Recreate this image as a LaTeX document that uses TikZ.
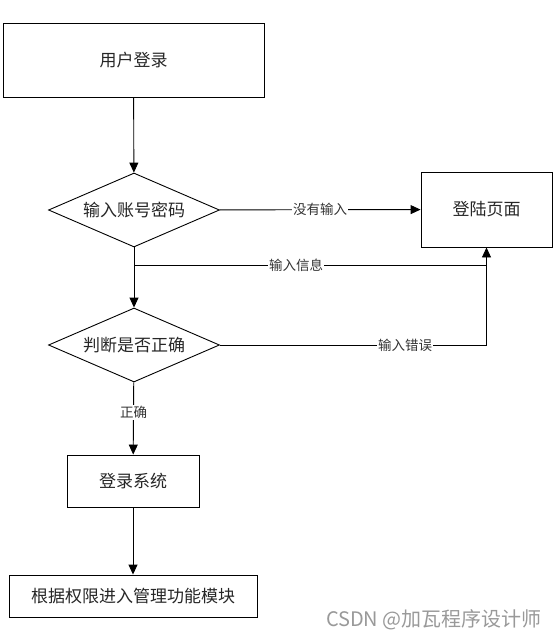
\documentclass[tikz,border=0pt]{standalone}
\usepackage{fontspec}
\setmainfont{Noto Sans CJK SC}
\usetikzlibrary{shapes.geometric,arrows.meta}
\begin{document}
\begin{tikzpicture}[x=1pt,y=-1pt,
  boxnode/.style={draw=black, line width=0.9pt, rectangle, inner sep=0pt, font=\fontsize{17}{20}\selectfont, text=black!85},
  decision/.style={draw=black, line width=0.9pt, diamond, aspect=2.31, inner sep=0pt, minimum width=171pt, minimum height=74pt, font=\fontsize{17}{20}\selectfont, text=black!85},
  lbl/.style={fill=white, inner sep=1pt, font=\fontsize{13.5}{16}\selectfont, text=black!80},
  arr/.style={line width=0.9pt, -{Triangle[length=10pt,width=9pt]}},
  ln/.style={line width=0.9pt}]
\useasboundingbox (0,0) rectangle (555,639);
\node[boxnode, minimum width=261pt, minimum height=74pt] (top) at (133.5,60) {用户登录};
\node[decision] (d1) at (134,210) {输入账号密码};
\node[boxnode, minimum width=131pt, minimum height=75pt] (login) at (486.5,209.5) {登陆页面};
\node[decision] (d2) at (134,345) {判断是否正确};
\node[boxnode, minimum width=132pt, minimum height=52pt] (sys) at (133,481) {登录系统};
\node[boxnode, minimum width=248pt, minimum height=42pt] (mod) at (133,596) {根据权限进入管理功能模块};
\node[font=\fontsize{20}{24}\selectfont, text=black!40, anchor=east, inner sep=0pt] (wm) at (542,620) {CSDN @加瓦程序设计师};

\coordinate (j1) at (134,265);
\coordinate (j2) at (login.south |- j1);

\draw[arr] (top) -- (d1);
\draw[arr] (d1) -- node[lbl]{没有输入} (login);
\draw[arr] (d1) -- (d2);
\draw[ln] (j1) -- node[lbl, pos=0.46]{输入信息} (j2);
\draw[arr] (j2) -- (login.south);
\draw[ln] (d2.east) -- node[lbl, pos=0.695]{输入错误} (d2.east -| login.south) -- (j2);
\draw[arr] (d2) -- node[lbl, pos=0.42]{正确} (sys);
\draw[arr] (sys) -- (mod);
\end{tikzpicture}
\end{document}
